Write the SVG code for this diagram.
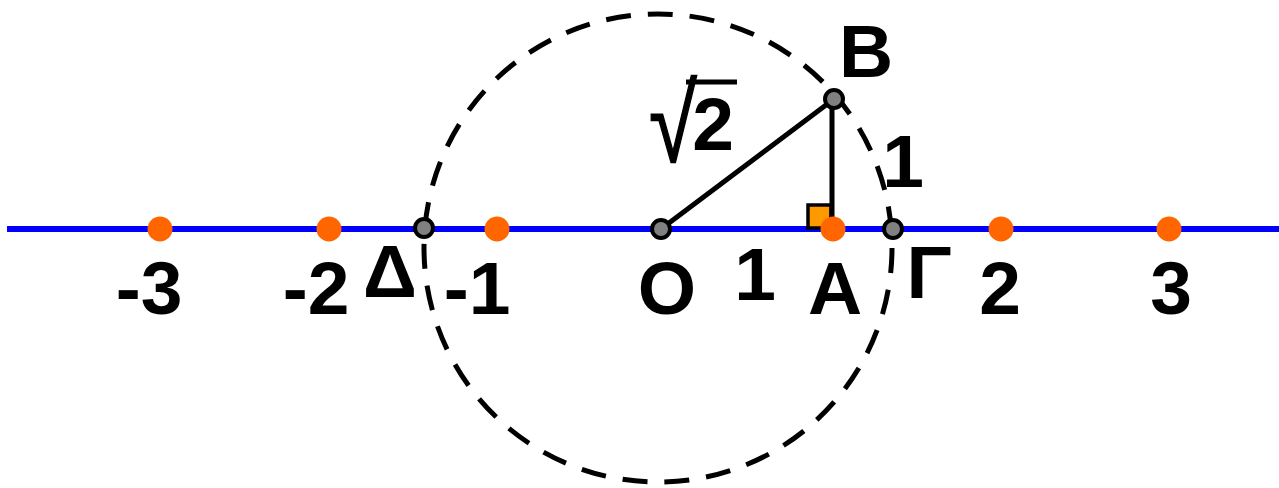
<svg xmlns="http://www.w3.org/2000/svg" width="1279" height="488" viewBox="0 0 1279 488">
<style>
.lbl{font-family:"Liberation Sans",Arial,sans-serif;font-weight:bold;font-size:75px;fill:#000;text-anchor:middle}
.tick{fill:#FF6600}
.pt{fill:#808080;stroke:#000;stroke-width:4}
.seg{stroke:#000;stroke-width:5;fill:none;stroke-linecap:round}
</style>
<rect x="0" y="0" width="1279" height="488" fill="#fff"/>
<g id="axis">
<line x1="7" y1="229" x2="1279" y2="229" stroke="#0000FF" stroke-width="6"/>
</g>
<g id="right-angle">
<rect x="808" y="205" width="23" height="23" fill="#FF9900" stroke="#000" stroke-width="3.5"/>
</g>
<g id="connectors">
<line class="seg" x1="661" y1="229" x2="834" y2="99"/>
<line class="seg" x1="832" y1="99" x2="832" y2="229"/>
</g>
<g id="circle">
<circle cx="658" cy="248" r="234" fill="none" stroke="#000" stroke-width="5" stroke-dasharray="25 17"/>
</g>
<g id="ticks">
<circle class="tick" cx="160" cy="229" r="12.5"/>
<circle class="tick" cx="329" cy="229" r="12.5"/>
<circle class="tick" cx="497" cy="229" r="12.5"/>
<circle class="tick" cx="833" cy="229" r="12.5"/>
<circle class="tick" cx="1001" cy="229" r="12.5"/>
<circle class="tick" cx="1169" cy="229" r="12.5"/>
</g>
<g id="point-D"><circle class="pt" cx="424" cy="228" r="9"/></g>
<g id="point-O"><circle class="pt" cx="661" cy="229" r="9"/></g>
<g id="point-G"><circle class="pt" cx="893" cy="229" r="9"/></g>
<g id="point-B"><circle class="pt" cx="834" cy="99" r="9"/></g>
<g id="labels">
<text class="lbl" x="149" y="314">-3</text>
<text class="lbl" x="316" y="314">-2</text>
<text class="lbl" x="390" y="297">Δ</text>
<text class="lbl" x="477" y="314">-1</text>
<text class="lbl" x="667" y="314">O</text>
<text class="lbl" x="755" y="300">1</text>
<text class="lbl" x="835" y="314">A</text>
<text class="lbl" x="929" y="298">Γ</text>
<text class="lbl" x="1000" y="314">2</text>
<text class="lbl" x="1171" y="314">3</text>
<text class="lbl" x="903" y="187">1</text>
<text class="lbl" x="866" y="77">B</text>
<g id="sqrt2">
<text transform="translate(649,162) scale(0.8,1)" x="0" y="0" style="font-family:'Liberation Sans',Arial,sans-serif;font-size:109px;fill:#000;stroke:#000;stroke-width:1.5">√</text>
<line x1="686" y1="82" x2="737" y2="82" stroke="#000" stroke-width="5"/>
<text class="lbl" x="713" y="150">2</text>
</g>
</g>
</svg>
